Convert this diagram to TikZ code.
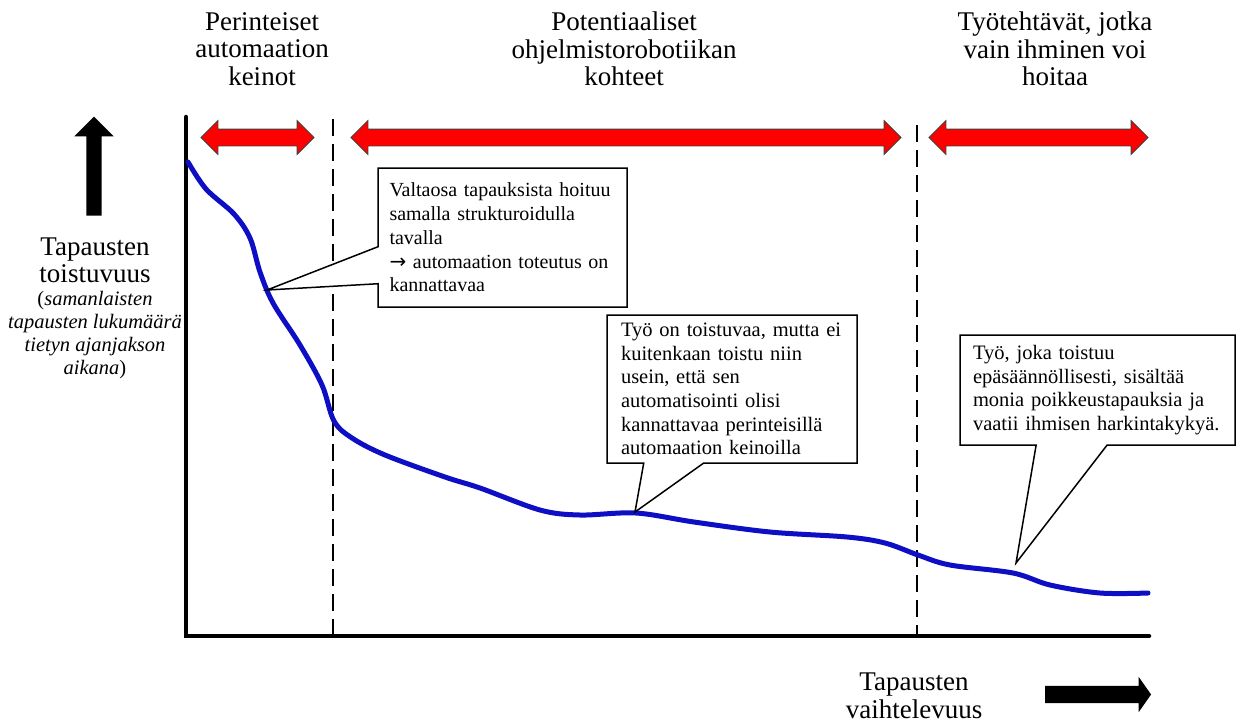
\documentclass[tikz,border=0pt]{standalone}
\usepackage{fontspec}
\setmainfont{Liberation Serif}
\newfontfamily\arrowfont{DejaVu Sans}
\usetikzlibrary{shapes.arrows,shapes.callouts}
\definecolor{curveblue}{RGB}{14,14,196}

\begin{document}
\begin{tikzpicture}[x=1pt, y=-1pt,
    biglab/.style={align=center, font=\fontsize{27}{27.5}\selectfont},
    notelab/.style={align=center, font=\fontsize{20.5}{23}\selectfont\itshape},
    remark/.style={rectangle callout, draw, fill=white, line width=1.5, align=left,
      inner xsep=13, inner ysep=0, font=\fontsize{20.5}{23.7}\selectfont},
    span/.style={double arrow, draw=black!75, fill=red, line width=0.8, inner xsep=0,
      inner ysep=8, double arrow head extend=8.5, double arrow tip angle=90},
    blockarrow/.style={single arrow, fill=black, inner xsep=0},
    axis/.style={line width=4.5},
    divider/.style={line width=2.2, dash pattern=on 17 off 8}]
    \useasboundingbox (0,0) rectangle (1236,724);

    \coordinate (O) at (186,636);
    \coordinate (ytop) at (186,117);
    \coordinate (xend) at (1149,636);
    \draw[axis] (ytop) -- (O) -- (xend) [line cap=round];
    \draw[divider] (333,119) -- (333,636);
    \draw[divider] (917,125) -- (917,636);

    \node[biglab] (lab1) at (262,49) {Perinteiset\\automaation\\keinot};
    \node[biglab] (lab2) at (624,49) {Potentiaaliset\\ohjelmistorobotiikan\\kohteet};
    \node[biglab] (lab3) at (1055,49) {Työtehtävät, jotka\\vain ihminen voi\\hoitaa};
    \node[biglab] (ylab) at (95,260.5) {Tapausten\\toistuvuus};
    \node[notelab] (ynote) at (95,335) {{\upshape(}samanlaisten\\tapausten lukumäärä\\tietyn ajanjakson\\aikana{\upshape)}};
    \node[biglab] (xlab) at (914,696) {Tapausten\\vaihtelevuus};

    \node[span, minimum height=113] (span1) at (257.5,137.5) {};
    \node[span, minimum height=550] (span2) at (626,137.5) {};
    \node[span, minimum height=219] (span3) at (1038.5,137.5) {};

    \node[blockarrow, rotate=90, minimum height=99, inner ysep=7.5, single arrow head extend=12] (uparr) at (94,170) {};
    \node[blockarrow, minimum height=106, inner ysep=8.5, single arrow head extend=9, single arrow tip angle=110] (rightarr) at (1095,694.5) {};

    \draw[curveblue, line width=5, line cap=round] plot[smooth, tension=0.55] coordinates {
      (188,162) (206,189) (234,214) (250,238) (260,272) (273,303) (300,345)
      (322,385) (334,421) (352,438) (385,455) (445,477) (480,488) (540,510)
      (580,515) (636,513) (694,522) (770,532) (847,537) (885,543) (918,555)
      (950,565) (1013,573) (1050,585) (1100,593) (1148,593)};

    \coordinate (tip1) at (267,290);
    \coordinate (tip2) at (635,512);
    \coordinate (tip3) at (1016,563);
    \node[remark, callout absolute pointer={(tip1)}, callout pointer width=37,
      inner xsep=11.5, text width=226, minimum height=139, font=\fontsize{20}{23.7}\selectfont] (note1) at (502.5,237.5)
      {Valtaosa tapauksista hoituu\\ samalla strukturoidulla\\ tavalla\\ {\arrowfont →} automaation toteutus on\\ kannattavaa};
    \node[remark, callout absolute pointer={(tip2)}, callout pointer width=60,
      inner xsep=14, text width=222, minimum height=148] (note2) at (732,389)
      {Työ on toistuvaa, mutta ei\\ kuitenkaan toistu niin\\ usein, että sen\\ automatisointi olisi\\ kannattavaa perinteisillä\\ automaation keinoilla};
    \node[remark, callout absolute pointer={(tip3)}, callout pointer width=71,
      text width=249, minimum height=110] (note3) at (1097.5,390)
      {Työ, joka toistuu\\ epäsäännöllisesti, sisältää\\ monia poikkeustapauksia ja\\ vaatii ihmisen harkintakykyä.};
\end{tikzpicture}
\end{document}
